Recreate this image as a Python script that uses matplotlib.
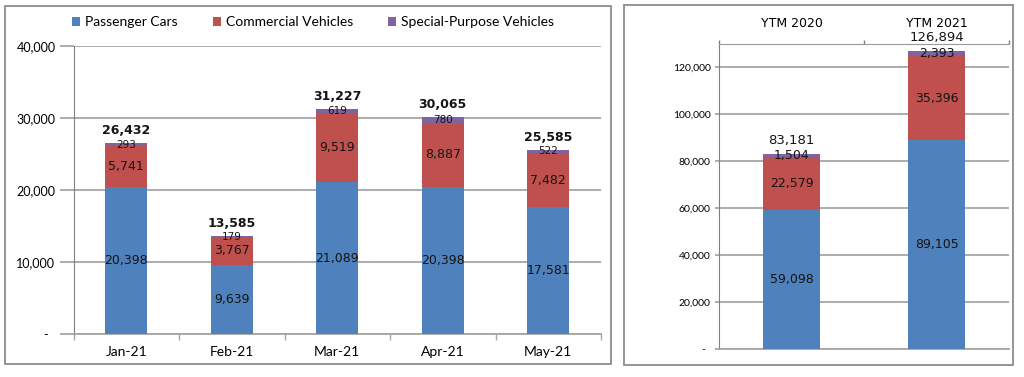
import numpy as np
import matplotlib.pyplot as plt
from matplotlib.patches import Rectangle

# Monthly sales, Jan-May 2021
months = ['Jan-21', 'Feb-21', 'Mar-21', 'Apr-21', 'May-21']
passenger = [20398, 9639, 21089, 20398, 17581]
commercial = [5741, 3767, 9519, 8887, 7482]
special = [293, 179, 619, 780, 522]
month_totals = [26432, 13585, 31227, 30065, 25585]

# Year-to-May totals
periods = ['YTM 2020', 'YTM 2021']
ytm_passenger = [59098, 89105]
ytm_commercial = [22579, 35396]
ytm_special = [1504, 2393]
ytm_totals = [83181, 126894]

series_names = ['Passenger Cars', 'Commercial Vehicles', 'Special-Purpose Vehicles']
colors = ['#4F81BD', '#C0504D', '#8064A2']
grid_c = '#A6A6A6'
txt_c = '#141414'
lab_font = 'DejaVu Sans'
ui_font = 'Lato'

W, H = 1024, 377
fig = plt.figure(figsize=(W / 100, H / 100), dpi=100)

def px_axes(x0, x1, ytop, ybot):
    return fig.add_axes([x0 / W, 1 - ybot / H, (x1 - x0) / W, (ybot - ytop) / H])

def fmt(v):
    return f'{v:,}' if v else '-'

# panel borders
for (x0, y0, x1, y1) in [(5, 6, 611, 364), (624, 5, 1013, 365)]:
    fig.patches.append(Rectangle((x0 / W, 1 - y1 / H), (x1 - x0) / W, (y1 - y0) / H,
                                 transform=fig.transFigure, fill=False,
                                 edgecolor='#8C8C8C', linewidth=1.3))

# ---------------- left chart ----------------
ax = px_axes(73.5, 601, 45.7, 334)
x = np.arange(len(months))
stack = [passenger, commercial, special]
bottom = np.zeros(len(months))
bars = []
for vals, c, name in zip(stack, colors, series_names):
    b = ax.bar(x, vals, 0.4, bottom=bottom, color=c, label=name, zorder=3)
    bars.append(b)
    sz = 7.5 if vals is special else 9
    for xi, v, bt in zip(x, vals, bottom):
        ax.text(xi, bt + v / 2, f'{v:,}', ha='center', va='center',
                fontsize=sz, color=txt_c, family=lab_font, zorder=4)
    bottom = bottom + np.array(vals)
for xi, t, top in zip(x, month_totals, bottom):
    ax.annotate(f'{t:,}', (xi, top), xytext=(0, 9), textcoords='offset points',
                ha='center', va='center', fontsize=9, fontweight='bold',
                color=txt_c, family=lab_font)

ax.set_xlim(-0.5, len(months) - 0.5)
ax.set_ylim(0, 40000)
ax.set_yticks(np.arange(0, 40001, 10000))
ax.set_yticklabels([fmt(v) + ('  ' if v == 0 else '') for v in range(0, 40001, 10000)],
                   family=ui_font, fontsize=9)
ax.tick_params(axis='y', length=10, color=grid_c, width=1.3, pad=3)
ax.set_xticks(np.arange(-0.5, len(months)), labels=[])
ax.set_xticks(x, minor=True)
ax.set_xticklabels(months, minor=True, family=ui_font, fontsize=10)
ax.tick_params(axis='x', which='major', length=4, color=grid_c, width=1)
ax.tick_params(axis='x', which='minor', length=0, pad=9)
ax.grid(axis='y', color=grid_c, linewidth=1.3, zorder=0)
for s in ['top', 'right']:
    ax.spines[s].set_visible(False)
ax.spines['left'].set_color('#7F7F7F')
ax.spines['bottom'].set_color(grid_c)
ax.spines['bottom'].set_linewidth(1.3)

fig.legend(handles=bars, labels=series_names, loc='center', ncol=3,
           bbox_to_anchor=(313 / W, 1 - 22 / H), frameon=False,
           prop={'family': ui_font, 'size': 10}, handlelength=0.6, handleheight=0.6,
           handletextpad=0.35, columnspacing=2.5)

# ---------------- right chart ----------------
ax2 = px_axes(719, 1009, 43.5, 349)
x2 = np.arange(len(periods))
stack2 = [ytm_passenger, ytm_commercial, ytm_special]
bottom = np.zeros(len(periods))
for vals, c in zip(stack2, colors):
    ax2.bar(x2, vals, 0.39, bottom=bottom, color=c, zorder=3)
    for xi, v, bt in zip(x2, vals, bottom):
        ax2.text(xi, bt + v / 2, f'{v:,}', ha='center', va='center',
                 fontsize=9, color=txt_c, family=lab_font, zorder=4)
    bottom = bottom + np.array(vals)
for xi, t, top in zip(x2, ytm_totals, bottom):
    ax2.annotate(f'{t:,}', (xi, top), xytext=(0, 9.5), textcoords='offset points',
                 ha='center', va='center', fontsize=9.5, color=txt_c, family=lab_font)

ax2.set_xlim(-0.5, len(periods) - 0.5)
ax2.set_ylim(0, 130000)
yt = np.arange(0, 120001, 20000)
ax2.set_yticks(yt)
ax2.set_yticklabels([fmt(v) + ('  ' if v == 0 else '') for v in yt],
                    family=ui_font, fontsize=7.5)
ax2.tick_params(axis='y', length=3, color=grid_c, width=1.3, pad=3)
ax2.xaxis.tick_top()
ax2.set_xticks(np.arange(-0.5, len(periods)), labels=[])
ax2.set_xticks(x2, minor=True)
ax2.set_xticklabels(periods, minor=True, family=lab_font, fontsize=9)
ax2.tick_params(axis='x', which='major', length=3, color='#7F7F7F', width=1)
ax2.tick_params(axis='x', which='minor', length=0, pad=10)
ax2.grid(axis='y', color=grid_c, linewidth=1.3, zorder=0)
ax2.spines['right'].set_visible(False)
ax2.spines['left'].set_color('#7F7F7F')
ax2.spines['top'].set_color('#9A9A9A')
ax2.spines['bottom'].set_color(grid_c)
ax2.spines['bottom'].set_linewidth(1.3)

fig.savefig('out.png', dpi=100)
